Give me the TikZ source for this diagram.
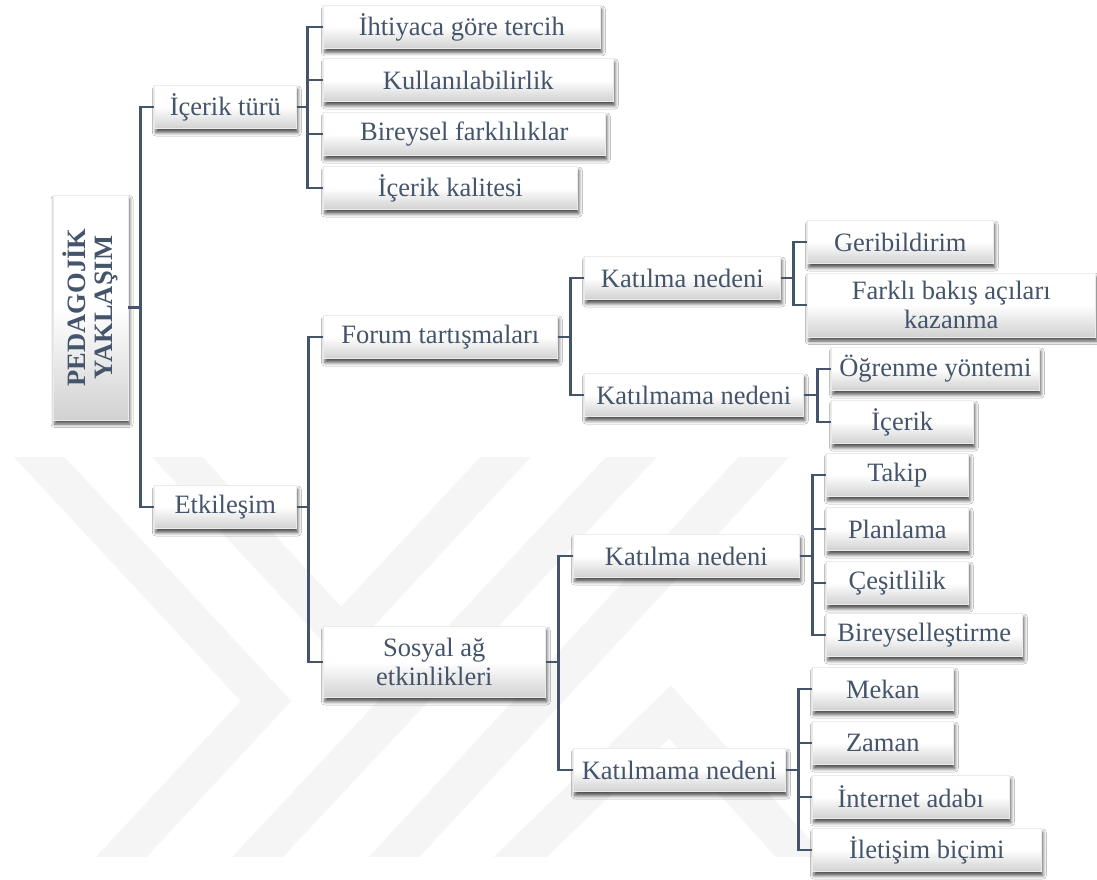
\documentclass[tikz,border=0pt]{standalone}
\usepackage{fontspec}
\setmainfont{Liberation Serif}
\usetikzlibrary{shadows.blur}
\definecolor{slate}{HTML}{44546A}

\begin{document}
\begin{tikzpicture}[
  x=1pt, y=-1pt,
  font=\fontsize{26.5}{29}\selectfont,
  box/.style={anchor=west, align=center, inner sep=0pt, minimum height=43pt,
    text=slate, draw=black!8, line width=0.6pt,
    top color=white, bottom color=black!18, middle color=white,
    blur shadow={shadow xshift=1.5pt, shadow yshift=-4pt,
      shadow blur radius=3.5pt, shadow opacity=70}},
  rootbox/.style={box, anchor=center, rotate=90, minimum width=225pt,
    minimum height=75pt, font=\fontsize{26.5}{27}\selectfont\bfseries},
  link/.style={draw=slate, line width=2.8pt},
  wmband/.style={draw=black!4, line width=37pt, line join=miter}
  ]

\fill[white] (0,0) rectangle (1097,880);
\useasboundingbox (0,0) rectangle (1097,880);

% Faint background emblem
\begin{scope}
  \clip (0,457) rectangle (1097,856);
  \draw[wmband] (4,419) -- (266,701) -- (85,896);
  \draw[wmband] (142,419) -- (341,634) -- (541,419);
  \draw[wmband] (221,896) -- (667,419);
  \draw[wmband] (358,896) -- (799,419);
  \draw[wmband] (480,896) -- (670,712) -- (836,896);
\end{scope}

% Root node
\node[rootbox] (root) at (90.5,307.5) {PEDAGOJİK\\YAKLAŞIM};

% Level 1
\node[box, minimum width=142pt] (icerik) at (154,107) {İçerik türü};
\node[box, minimum width=142pt] (etkilesim) at (154,507) {Etkileşim};

% Level 2
\node[box, minimum width=277pt] (ihtiyac) at (323,27) {İhtiyaca göre tercih};
\node[box, minimum width=290pt] (kullanim) at (323,80) {Kullanılabilirlik};
\node[box, minimum width=282pt] (farklilik) at (323,134) {Bireysel farklılıklar};
\node[box, minimum width=254pt] (kalite) at (323,188) {İçerik kalitesi};
\node[box, minimum width=234pt] (forum) at (323,337) {Forum tartışmaları};
\node[box, minimum width=222pt, minimum height=71pt] (sosyal) at (323,662) {Sosyal ağ\\etkinlikleri};

% Level 3
\node[box, minimum width=196pt] (fkatil) at (584,278) {Katılma nedeni};
\node[box, minimum width=219pt] (fkatilma) at (584,395) {Katılmama nedeni};
\node[box, minimum width=226pt] (skatil) at (573,556) {Katılma nedeni};
\node[box, minimum width=212pt] (skatilma) at (573,770) {Katılmama nedeni};

% Level 4
\node[box, minimum width=186pt] (geri) at (807,242) {Geribildirim};
\node[box, minimum width=288pt, minimum height=64pt] (bakis) at (807,305) {Farklı bakış açıları\\kazanma};
\node[box, minimum width=208pt] (yontem) at (831,369) {Öğrenme yöntemi};
\node[box, minimum width=142pt] (icerikb) at (831,422) {İçerik};
\node[box, minimum width=142pt] (takip) at (826,475) {Takip};
\node[box, minimum width=142pt] (plan) at (826,529) {Planlama};
\node[box, minimum width=142pt] (cesit) at (826,583) {Çeşitlilik};
\node[box, minimum width=196pt] (bireysel) at (826,635) {Bireyselleştirme};
\node[box, minimum width=141pt] (mekan) at (812,689) {Mekan};
\node[box, minimum width=141pt] (zaman) at (812,743) {Zaman};
\node[box, minimum width=197pt] (adab) at (812,797) {İnternet adabı};
\node[box, minimum width=229pt] (iletisim) at (812,850) {İletişim biçimi};

% Connectors
\foreach \n in {icerik,etkilesim}
  \draw[link] (root.south) -- ++(12,0) |- (\n.west);
\foreach \n in {ihtiyac,kullanim,farklilik,kalite}
  \draw[link] (icerik.east) -- ++(11,0) |- (\n.west);
\foreach \n in {forum,sosyal}
  \draw[link] (etkilesim.east) -- ++(12,0) |- (\n.west);
\foreach \n in {fkatil,fkatilma}
  \draw[link] (forum.east) -- ++(13,0) |- (\n.west);
\foreach \n in {skatil,skatilma}
  \draw[link] (sosyal.east) -- ++(13,0) |- (\n.west);
\foreach \n in {geri,bakis}
  \draw[link] (fkatil.east) -- ++(13,0) |- (\n.west);
\foreach \n in {yontem,icerikb}
  \draw[link] (fkatilma.east) -- ++(14,0) |- (\n.west);
\foreach \n in {takip,plan,cesit,bireysel}
  \draw[link] (skatil.east) -- ++(13,0) |- (\n.west);
\foreach \n in {mekan,zaman,adab,iletisim}
  \draw[link] (skatilma.east) -- ++(13,0) |- (\n.west);

\end{tikzpicture}
\end{document}
